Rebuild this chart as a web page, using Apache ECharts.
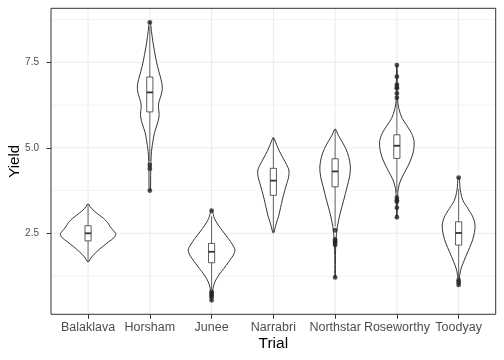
<!DOCTYPE html>
<html><head><meta charset="utf-8">
<script src="https://cdn.jsdelivr.net/npm/echarts@6/dist/echarts.min.js"></script>
<style>html,body{margin:0;padding:0;background:#fff}#c{width:504px;height:360px}</style>
</head><body><div id="c"></div>
<script>
// ---- data ----
const categories = ['Balaklava','Horsham','Junee','Narrabri','Northstar','Roseworthy','Toodyay'];
const yTicks = [2.5, 5.0, 7.5];
const yMinorGrid = [1.25, 3.75, 6.25, 8.75];

// violin outlines: yield values and relative density (1 = widest violin)
const balaklavaY = [3.35, 3.23, 3.08, 2.94, 2.82, 2.69, 2.54, 2.47, 2.37, 2.25, 2.11, 1.96, 1.81, 1.67];
const balaklavaD = [0.02, 0.12, 0.33, 0.55, 0.70, 0.80, 0.95, 1.00, 0.93, 0.74, 0.52, 0.31, 0.13, 0.02];
const horshamY = [8.67, 8.4, 8.1, 7.86, 7.6, 7.37, 7.1, 6.9, 6.74, 6.55, 6.35, 6.2, 6.05, 5.9, 5.7, 5.45, 5.23, 4.9, 4.6, 4.2, 3.75];
const horshamD = [0.02, 0.06, 0.11, 0.16, 0.22, 0.28, 0.37, 0.43, 0.45, 0.41, 0.33, 0.31, 0.33, 0.33, 0.27, 0.17, 0.12, 0.06, 0.04, 0.03, 0.02];
const juneeY = [3.16, 2.94, 2.74, 2.54, 2.35, 2.16, 2.01, 1.86, 1.67, 1.47, 1.28, 1.08, 0.89, 0.64, 0.54];
const juneeD = [0.02, 0.10, 0.24, 0.42, 0.60, 0.76, 0.84, 0.78, 0.62, 0.44, 0.26, 0.12, 0.05, 0.02, 0.01];
const narrabriY = [5.29, 5.1, 4.9, 4.7, 4.5, 4.35, 4.15, 3.95, 3.75, 3.5, 3.25, 3.0, 2.8, 2.62, 2.52];
const narrabriD = [0.02, 0.11, 0.22, 0.35, 0.48, 0.56, 0.55, 0.48, 0.41, 0.33, 0.26, 0.19, 0.11, 0.05, 0.02];
const northstarY = [5.54, 5.37, 5.18, 4.98, 4.74, 4.44, 4.15, 3.86, 3.47, 3.08, 2.69, 2.30, 1.72, 1.21];
const northstarD = [0.02, 0.11, 0.25, 0.38, 0.49, 0.55, 0.52, 0.43, 0.31, 0.18, 0.08, 0.03, 0.01, 0.01];
const roseworthyY = [7.42, 6.9, 6.44, 6.15, 5.86, 5.66, 5.42, 5.18, 4.88, 4.59, 4.30, 4.06, 3.81, 3.52, 2.97];
const roseworthyD = [0.01, 0.015, 0.02, 0.07, 0.19, 0.35, 0.53, 0.62, 0.59, 0.47, 0.29, 0.14, 0.05, 0.02, 0.01];
const toodyayY = [4.13, 3.76, 3.47, 3.23, 2.98, 2.74, 2.45, 2.21, 1.96, 1.67, 1.42, 1.13, 0.99];
const toodyayD = [0.02, 0.06, 0.15, 0.33, 0.51, 0.59, 0.55, 0.46, 0.33, 0.18, 0.07, 0.02, 0.01];

// boxplot statistics
const boxLow  = [1.67, 4.60, 0.85, 2.52, 2.70, 3.70, 1.20];
const boxQ1   = [2.28, 6.05, 1.64, 3.61, 3.86, 4.69, 2.155];
const boxMed  = [2.50, 6.62, 1.96, 4.04, 4.31, 5.06, 2.51];
const boxQ3   = [2.72, 7.07, 2.205, 4.40, 4.68, 5.38, 2.836];
const boxHigh = [3.35, 8.55, 3.00, 5.29, 5.54, 6.35, 3.80];

// outliers
const outBalaklava = [];
const outHorsham = [8.67, 4.50, 4.39, 3.75];
const outJunee = [3.16, 0.79, 0.74, 0.69, 0.63, 0.54];
const outNarrabri = [];
const outNorthstar = [2.59, 2.32, 2.27, 2.22, 2.16, 1.21];
const outRoseworthy = [7.42, 7.08, 6.85, 6.78, 6.74, 6.59, 6.46, 3.54, 3.47, 3.42, 3.25, 2.97];
const outToodyay = [4.13, 1.13, 1.06, 0.99];

// ---- assembly ----
const violinY = [balaklavaY, horshamY, juneeY, narrabriY, northstarY, roseworthyY, toodyayY];
const violinD = [balaklavaD, horshamD, juneeD, narrabriD, northstarD, roseworthyD, toodyayD];
const outliers = [outBalaklava, outHorsham, outJunee, outNarrabri, outNorthstar, outRoseworthy, outToodyay];
const VIOLIN_HALF = 0.45, BOX_HALF = 0.05;
const FONT = 'Liberation Sans, Arial, Helvetica, sans-serif';
const catPos = categories.map((c, i) => i + 1);

const outlierData = [];
outliers.forEach((arr, i) => arr.forEach(v => outlierData.push([i + 1, v])));

const chart = echarts.init(document.getElementById('c'), null, {renderer: 'canvas'});
chart.setOption({
  animation: false,
  backgroundColor: '#fff',
  grid: {left: 51, right: 8.3, top: 8.3, bottom: 45.7, show: true, borderColor: '#333333', borderWidth: 1,
    backgroundColor: 'transparent', containLabel: false, outerBoundsMode: 'none'},
  xAxis: {
    type: 'value', min: 0.4, max: 7.6,
    axisLine: {show: false},
    splitLine: {show: false},
    axisTick: {show: true, length: 4.5, lineStyle: {color: '#333333', width: 1}, customValues: catPos},
    axisLabel: {customValues: catPos, color: '#4d4d4d', fontSize: 12.5, fontFamily: FONT, margin: 6.5,
      formatter: v => categories[Math.round(v) - 1] || ''},
    name: 'Trial', nameLocation: 'middle', nameGap: 21.5, nameMoveOverlap: false,
    nameTextStyle: {color: '#000', fontSize: 15.5, fontFamily: FONT}
  },
  yAxis: {
    type: 'value', min: 0.132, max: 9.079,
    axisLine: {show: false},
    splitLine: {show: false},
    axisTick: {show: true, length: 4.5, lineStyle: {color: '#333333', width: 1}, customValues: yTicks},
    axisLabel: {customValues: yTicks, color: '#4d4d4d', fontSize: 10, fontFamily: FONT, margin: 12,
      formatter: v => v.toFixed(1)},
    name: 'Yield', nameLocation: 'middle', nameGap: 29, nameRotate: 90, nameMoveOverlap: false,
    nameTextStyle: {color: '#000', fontSize: 15, fontFamily: FONT}
  },
  series: [
    { // horizontal grid lines
      type: 'custom', z: -1, silent: true,
      data: yTicks.map(v => [1, v, 1]).concat(yMinorGrid.map(v => [1, v, 0])),
      encode: {x: 0, y: 1},
      renderItem: function (params, api) {
        const cs = params.coordSys;
        const y = api.coord([1, api.value(1)])[1];
        const major = api.value(2) === 1;
        return {type: 'line', shape: {x1: cs.x, y1: y, x2: cs.x + cs.width, y2: y},
          style: {stroke: '#ebebeb', lineWidth: major ? 1.1 : 0.6}};
      }
    },
    { // vertical grid lines
      type: 'custom', z: -1, silent: true,
      data: catPos.map(p => [p, 1]),
      encode: {x: 0, y: 1},
      renderItem: function (params, api) {
        const cs = params.coordSys;
        const x = api.coord([api.value(0), 1])[0];
        return {type: 'line', shape: {x1: x, y1: cs.y, x2: x, y2: cs.y + cs.height},
          style: {stroke: '#ebebeb', lineWidth: 1.1}};
      }
    },
    { // violins
      type: 'custom', z: 2, silent: true,
      data: catPos.map((p, i) => [p, boxMed[i]]),
      encode: {x: 0, y: 1},
      renderItem: function (params, api) {
        const i = params.dataIndex;
        const x = api.value(0);
        const ys = violinY[i], ds = violinD[i];
        const right = [], left = [];
        for (let k = 0; k < ys.length; k++) {
          right.push(api.coord([x + ds[k] * VIOLIN_HALF, ys[k]]));
          left.push(api.coord([x - ds[k] * VIOLIN_HALF, ys[k]]));
        }
        const pts = right.concat(left.reverse());
        return {type: 'polygon', shape: {points: pts, smooth: 0.3},
          style: {fill: '#ffffff', stroke: '#2b2b2b', lineWidth: 0.95}};
      }
    },
    { // boxplots
      type: 'custom', z: 3, silent: true,
      data: catPos.map((p, i) => [p, boxMed[i]]),
      encode: {x: 0, y: 1},
      renderItem: function (params, api) {
        const i = params.dataIndex;
        const x = api.value(0);
        const pLo = api.coord([x, boxLow[i]]), pQ1 = api.coord([x, boxQ1[i]]);
        const pQ3 = api.coord([x, boxQ3[i]]), pHi = api.coord([x, boxHigh[i]]);
        const tl = api.coord([x - BOX_HALF, boxQ3[i]]), br = api.coord([x + BOX_HALF, boxQ1[i]]);
        const pm = api.coord([x, boxMed[i]]);
        const ls = {stroke: '#333333', lineWidth: 0.8};
        return {type: 'group', children: [
          {type: 'line', shape: {x1: pQ3[0], y1: pQ3[1], x2: pHi[0], y2: pHi[1]}, style: ls},
          {type: 'line', shape: {x1: pQ1[0], y1: pQ1[1], x2: pLo[0], y2: pLo[1]}, style: ls},
          {type: 'rect', shape: {x: tl[0], y: tl[1], width: br[0] - tl[0], height: br[1] - tl[1]},
            style: {fill: '#ffffff', stroke: '#333333', lineWidth: 0.8}},
          {type: 'line', shape: {x1: tl[0], y1: pm[1], x2: br[0], y2: pm[1]}, style: {stroke: '#333333', lineWidth: 1.8}}
        ]};
      }
    },
    { // outliers
      type: 'scatter', z: 4, silent: true,
      data: outlierData, symbol: 'circle', symbolSize: 4.8,
      itemStyle: {color: '#262626'}
    }
  ]
});
</script></body></html>
